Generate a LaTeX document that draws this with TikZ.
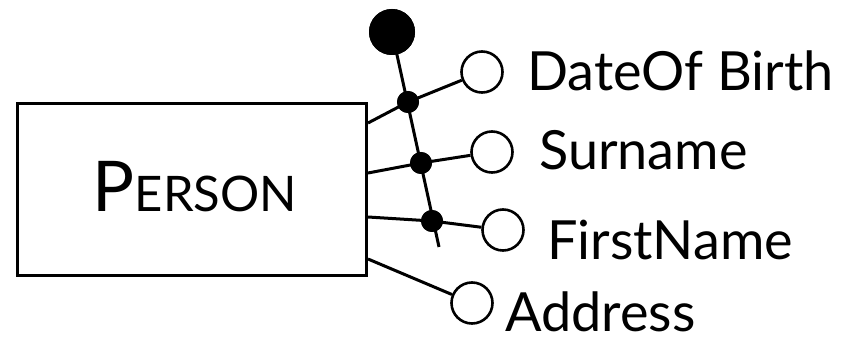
\documentclass[tikz,border=0pt]{standalone}
\usepackage{fontspec}
\setmainfont{Lato}
\begin{document}
\begin{tikzpicture}[x=1pt,y=-1pt,
  conn/.style={line width=3pt},
  entity/.style={draw,line width=3pt,minimum width=349pt,minimum height=172pt,inner sep=0pt},
  attr/.style={draw,circle,line width=2.6pt,fill=white,minimum size=41pt,inner sep=0pt},
  jdot/.style={circle,fill=black,minimum size=22pt,inner sep=0pt},
  keydot/.style={circle,fill=black,minimum size=46pt,inner sep=0pt},
  lbl/.style={anchor=base west,inner sep=0pt,font=\fontsize{54}{58}\selectfont}]
\useasboundingbox (0,0) rectangle (846,339);
\node[entity] (person) at (192,189.5) {};
\node[anchor=base,inner sep=0pt] (ptext) at (195,212) {\fontsize{70}{72}\selectfont P\fontsize{49}{52}\selectfont ERSON};
\coordinate (p1) at (368,123);
\coordinate (p2) at (368,173);
\coordinate (p3) at (368,217);
\coordinate (p4) at (368,259);
\node[keydot] (key) at (392,32) {};
\coordinate (spineend) at (439,247);
\node[jdot] (j1) at (408,102) {};
\node[jdot] (j2) at (421,163) {};
\node[jdot] (j3) at (432,221) {};
\node[attr] (a1) at (482,72) {};
\node[attr] (a2) at (492,152) {};
\node[attr] (a3) at (503,230) {};
\node[attr] (a4) at (472,303) {};
\draw[conn] (key.center) -- (spineend);
\draw[conn] (p1) -- (j1.center) -- (a1);
\draw[conn] (p2) -- (j2.center) -- (a2);
\draw[conn] (p3) -- (j3.center) -- (a3);
\draw[conn] (p4) -- (a4);
\node[keydot] at (key) {};
\node[jdot] at (j1) {};
\node[jdot] at (j2) {};
\node[jdot] at (j3) {};
\node[lbl] (l1) at (527,91) {DateOf Birth};
\node[lbl] (l2) at (539,170) {Surname};
\node[lbl] (l3) at (547,259) {FirstName};
\node[lbl] (l4) at (505,331) {Address};
\end{tikzpicture}
\end{document}
